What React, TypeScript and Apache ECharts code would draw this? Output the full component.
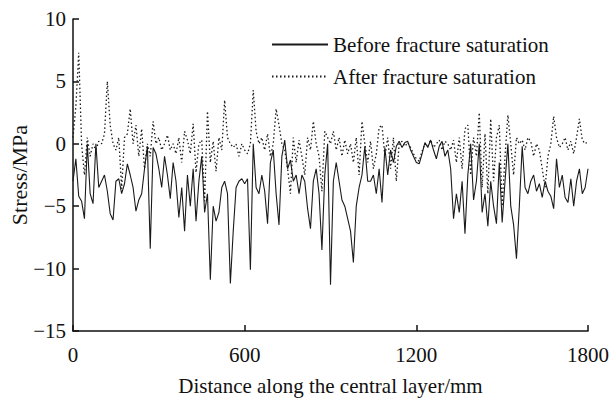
import React, { useEffect, useRef } from "react";
import * as echarts from "echarts";

// Distance along the central layer (mm): samples every 10 mm from 0 to 1800
const SAMPLE_STEP_MM = 10;

// Stress (MPa) before fracture saturation, read at each 10 mm sample
const beforeSaturation: number[] = [
  -3.0, -1.2, -4.2, -4.6, -6.0, 0.0, -4.0, -4.8, 0.0, -3.5,
  -3.0, -2.5, -3.8, -5.6, -6.1, -3.0, -2.8, -4.0, -3.2, -1.6,
  -2.5, -3.5, -5.4, -4.5, -4.0, -2.0, -0.2, -8.4, -0.3, -0.8,
  -2.0, -3.5, -1.0, -2.5, -4.4, -1.5, -3.0, -5.9, -3.5, -7.0,
  -2.5, -5.0, -2.0, -6.2, -3.0, -1.0, -5.5, -4.0, -10.9, -5.0,
  -6.2, -5.5, -3.5, -3.0, -4.0, -11.2, -7.0, -3.5, -3.0, -2.8,
  -3.2, -2.8, -10.1, 0.0, -3.5, -4.0, -2.5, -3.8, -6.4, -1.5,
  -0.5, -4.0, -6.5, -1.0, 0.3, -2.0, -1.3, -3.0, -2.5, -4.0,
  -2.5, -3.0, -5.2, -6.8, -3.0, -2.0, -4.0, -8.5, -2.5, 0.0,
  -11.3, -3.0, -1.5, -3.0, -4.5, -5.0, -6.0, -7.0, -9.5, -5.0,
  -3.5, -2.5, -0.2, -3.0, -3.0, -2.5, -4.0, -2.0, -4.7, -0.3,
  -2.5, -0.5, -1.5, -0.2, 0.2, -0.3, 0.1, 0.2, -0.5, -1.0,
  -1.5, -1.6, -0.8, 0.1, -0.3, 0.3, -0.5, -1.2, -0.2, 0.2,
  -1.0, -0.5, -2.0, -6.0, -4.0, -5.5, -3.0, -7.2, -2.5, 0.0,
  -4.5, -3.0, 0.0, -5.5, -4.0, -6.6, -3.0, -5.0, -6.4, -1.5,
  -6.3, -3.0, 0.0, -5.0, -6.5, -9.2, -5.0, -0.2, -3.5, -4.0,
  -3.0, -2.5, -3.8, -3.2, -4.3, -3.0, -3.8, -4.2, -5.2, -1.2,
  -3.5, -2.5, -4.3, -4.7, -2.8, -5.0, -3.0, -2.0, -4.0, -3.5,
  -2.0,
];

// Stress (MPa) after fracture saturation, read at each 10 mm sample
const afterSaturation: number[] = [
  0.5, 3.0, 7.3, 0.0, -2.5, 0.5, -1.0, 0.0, -0.5, 0.2,
  0.0, 0.8, 5.0, 1.5, 0.0, -0.5, 0.5, -3.6, 0.5, 0.8,
  2.8, 0.0, 1.5, -1.0, 1.2, -2.0, 0.0, -1.0, 1.8, 0.0,
  0.5, -0.5, 0.0, 0.7, -0.5, 0.0, -0.8, 0.5, -1.5, 1.0,
  0.3, -0.8, 1.6, -2.3, 0.0, 0.3, -4.6, 2.6, -1.5, 0.2,
  -2.2, 0.5, -0.5, 3.5, 0.5, 0.0, -0.3, 0.0, -1.0, 0.0,
  -0.5, -0.8, 0.0, 4.3, 1.0, 0.0, 0.5, -0.5, 0.8, -1.0,
  0.0, 2.8, 1.5, 0.0, -0.5, -2.0, -4.0, 0.5, -1.5, 0.3,
  -1.0, -2.5, 0.5, -0.5, 1.8, 0.0, -1.0, -3.8, 1.0, 0.5,
  0.0, 1.0, -0.5, 0.5, -1.0, 0.3, -0.8, 0.0, -1.5, 0.5,
  -2.5, 1.8, 0.0, -1.5, 0.2, -2.0, -0.8, 1.3, 1.5, -1.0,
  0.5, -2.0, 0.5, -3.0, 0.0, 0.2, -0.2, 0.1, -0.3, -0.8,
  -1.2, -1.4, -0.6, 0.0, -0.2, 0.3, -0.3, 0.0, 0.3, -0.5,
  0.2, 0.0, -0.5, 0.3, -1.5, 0.5, -2.0, 1.2, 1.5, -2.5,
  0.5, -1.0, 2.5, -3.5, 0.8, -4.0, 2.0, -3.0, 0.5, 1.5,
  -5.0, -1.0, 2.3, 0.0, -2.5, 0.5, 0.0, 0.3, -0.5, 0.5,
  0.2, -1.0, 0.0, -0.5, -2.0, -3.5, -1.0, 0.0, 2.2, 0.5,
  -0.3, 0.0, 0.5, -0.5, 0.2, -0.8, 0.5, 2.0, 0.3, 0.0,
  0.2,
];

const seriesNames = ["Before fracture saturation", "After fracture saturation"];
const xTicks = [0, 600, 1200, 1800];
const yTicks = [-15, -10, -5, 0, 5, 10];

const FONT = "'Liberation Serif', 'Times New Roman', serif";

export default function App() {
  const ref = useRef<HTMLDivElement>(null);

  useEffect(() => {
    if (!ref.current) return;
    const chart = echarts.init(ref.current, undefined, { renderer: "svg" });
    const toPairs = (vals: number[]) =>
      vals.map((v, i) => [i * SAMPLE_STEP_MM, v]);

    chart.setOption({
      animation: false,
      backgroundColor: "#ffffff",
      textStyle: { fontFamily: FONT },
      grid: {
        left: 73,
        right: 24,
        top: 19,
        bottom: 68,
        containLabel: false,
        outerBoundsMode: "none",
      },
      legend: {
        orient: "vertical",
        left: 266,
        top: 29,
        itemWidth: 56,
        itemHeight: 12,
        itemGap: 11,
        data: seriesNames,
        itemStyle: { opacity: 0 },
        textStyle: { fontFamily: FONT, fontSize: 21, color: "#111" },
      },
      xAxis: {
        type: "value",
        min: xTicks[0],
        max: xTicks[xTicks.length - 1],
        interval: 600,
        name: "Distance along the central layer/mm",
        nameLocation: "middle",
        nameGap: 44,
        nameMoveOverlap: false,
        nameTextStyle: { fontFamily: FONT, fontSize: 21, color: "#111" },
        axisLine: { show: true, onZero: false, lineStyle: { color: "#111", width: 1.5 } },
        axisTick: { show: true, inside: true, length: 6, lineStyle: { color: "#111", width: 1.5 } },
        axisLabel: {
          fontFamily: FONT,
          fontSize: 21,
          color: "#111",
          margin: 13,
          formatter: (v: number) => String(v),
        },
        splitLine: { show: false },
      },
      yAxis: {
        type: "value",
        min: yTicks[0],
        max: yTicks[yTicks.length - 1],
        interval: 5,
        name: "Stress/MPa",
        nameLocation: "middle",
        nameGap: 43,
        nameMoveOverlap: false,
        nameTextStyle: { fontFamily: FONT, fontSize: 22, color: "#111" },
        axisLine: { show: true, onZero: false, lineStyle: { color: "#111", width: 1.5 } },
        axisTick: { show: true, inside: true, length: 6, lineStyle: { color: "#111", width: 1.5 } },
        axisLabel: {
          fontFamily: FONT,
          fontSize: 21,
          color: "#111",
          margin: 7,
          formatter: (v: number) => String(v).replace("-", "\u2212"),
        },
        splitLine: { show: false },
      },
      series: [
        {
          name: seriesNames[0],
          type: "line",
          data: toPairs(beforeSaturation),
          symbol: "none",
          lineStyle: { color: "#1a1a1a", width: 1.1, type: "solid" },
          itemStyle: { color: "#1a1a1a" },
          z: 3,
        },
        {
          name: seriesNames[1],
          type: "line",
          data: toPairs(afterSaturation),
          symbol: "none",
          lineStyle: { color: "#1a1a1a", width: 1.3, type: [1.5, 2.5] },
          itemStyle: { color: "#1a1a1a" },
          z: 2,
        },
      ],
    });
    return () => chart.dispose();
  }, []);

  return (
    <div
      ref={ref}
      style={{ position: "fixed", left: 0, top: 0, width: 612, height: 399, background: "#fff" }}
    />
  );
}
